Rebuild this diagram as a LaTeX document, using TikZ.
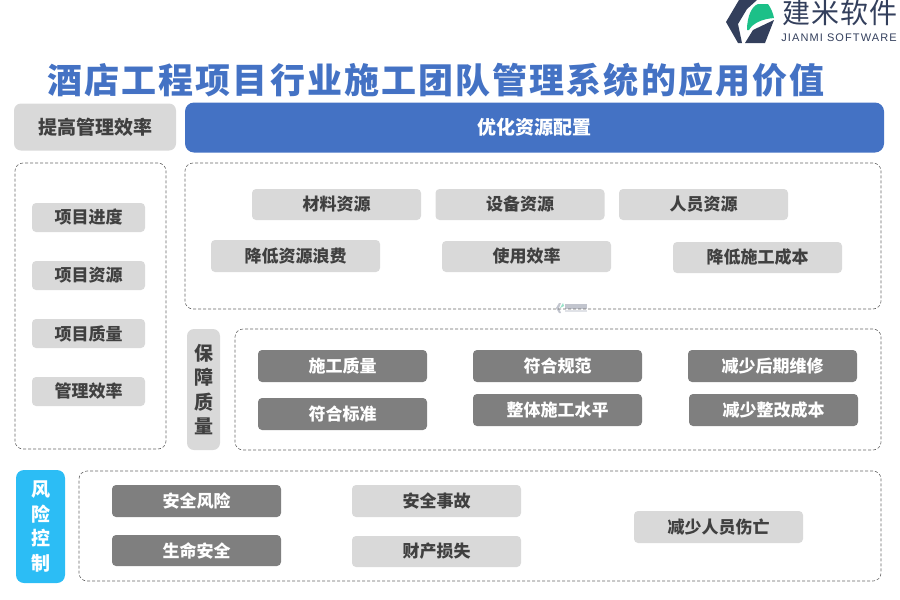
\documentclass[tikz,border=0pt]{standalone}
\usepackage{xcolor}
\usepackage{fontspec}
\usepackage{tikz}
\newfontfamily\cjk{Noto Sans CJK SC}
\newfontfamily\cjktitle[LetterSpace=6]{Noto Sans CJK SC}
\newfontfamily\cjklogo[LetterSpace=4]{Noto Sans CJK SC}
\newfontfamily\logolatin[LetterSpace=10]{Liberation Sans}
\definecolor{chipgray}{HTML}{D9D9D9}
\definecolor{darkgray}{HTML}{7F7F7F}
\definecolor{textgray}{HTML}{404040}
\definecolor{barblue}{HTML}{4472C4}
\definecolor{riskblue}{HTML}{2CBDF5}
\definecolor{logonavy}{HTML}{333F5C}
\definecolor{logogreen}{HTML}{1CC088}
\tikzset{
  chip/.style={fill=chipgray,rounded corners=4pt,minimum width=169pt,minimum height=31pt,inner sep=0pt,
    text=textgray,font=\cjk\bfseries\fontsize{17}{19}\selectfont},
  darkchip/.style={chip,fill=darkgray,text=white},
  sidechip/.style={chip,minimum width=113pt,minimum height=29pt},
  dashbox/.style={draw=black!60,densely dashed,line width=0.6pt,rounded corners=8pt,inner sep=0pt},
  tallbox/.style={rounded corners=7pt,inner sep=0pt,align=center,font=\cjk\bfseries\fontsize{19}{24.5}\selectfont}
}
\begin{document}
\begin{tikzpicture}[x=1pt,y=-1pt]
  \useasboundingbox (0,0) rectangle (900,600);
  % logo
  \fill[logonavy] (726,22) -- (739,0) -- (757,0) -- (747,9) -- (738,24) -- (742,43) -- (738,43) -- cycle;
  \fill[logonavy] (745,43) -- (753,30) -- (774,20) -- (765,43) -- cycle;
  \fill[logogreen] (747,30) .. controls (747,16) and (752,6) .. (758,4) -- (768,4) .. controls (771,8) and (773,13) .. (774,18) .. controls (762,19) and (753,23) .. (749,30) -- cycle;
  \node[text=logonavy,font=\cjklogo\fontsize{28}{30}\selectfont] (logotext) at (840,13) {建米软件};
  \node[text=logonavy,font=\logolatin\fontsize{11}{12}\selectfont] (logosub) at (839,38) {JIANMI SOFTWARE};
  % watermark
  \fill[logonavy!30] (556,308) -- (559,303) -- (561,303) -- (559,308) -- (561,313) -- (559,313) -- cycle;
  \fill[logogreen!45] (560,308) -- (563,303) -- (564,306) -- cycle;
  \fill[logonavy!30] (565,304) rectangle (587,309);
  \fill[logonavy!15] (565,310) rectangle (587,312);
  % title
  \node[text=barblue,font=\cjktitle\bfseries\fontsize{35}{38}\selectfont] (title) at (436,80) {酒店工程项目行业施工团队管理系统的应用价值};
  % dashed frames
  \node[dashbox,minimum width=151pt,minimum height=286pt] (leftframe) at (90.5,306) {};
  \node[dashbox,minimum width=696pt,minimum height=146pt] (topframe) at (533,236) {};
  \node[dashbox,minimum width=646pt,minimum height=121pt] (midframe) at (558,389.5) {};
  \node[dashbox,minimum width=802pt,minimum height=110pt] (riskframe) at (480,526) {};
  % headers
  \node[chip,minimum width=162pt,minimum height=47pt,rounded corners=7pt,font=\cjk\bfseries\fontsize{19}{21}\selectfont] (mgmt) at (95,127) {提高管理效率};
  \node[chip,fill=barblue,text=white,minimum width=699pt,minimum height=50pt,rounded corners=9pt,font=\cjk\bfseries\fontsize{19}{21}\selectfont] (optimize) at (534.5,127.5) {优化资源配置};
  \node[tallbox,fill=chipgray,text=textgray,minimum width=33pt,minimum height=121pt] (quality) at (203.5,389.5) {保\\障\\质\\量};
  \node[tallbox,fill=riskblue,text=white,minimum width=49pt,minimum height=113pt,rounded corners=8pt] (risk) at (40.5,526.5) {风\\险\\控\\制};
  % left column
  \node[sidechip] (l1) at (88.5,217.5) {项目进度};
  \node[sidechip] (l2) at (88.5,275.5) {项目资源};
  \node[sidechip] (l3) at (88.5,333.5) {项目质量};
  \node[sidechip] (l4) at (88.5,391.5) {管理效率};
  % resources
  \node[chip] (a1) at (336.5,204.5) {材料资源};
  \node[chip] (a2) at (520,204.5) {设备资源};
  \node[chip] (a3) at (703.5,204.5) {人员资源};
  \node[chip,minimum height=32pt] (a4) at (295.5,256) {降低资源浪费};
  \node[chip] (a5) at (526.5,256.5) {使用效率};
  \node[chip] (a6) at (757.5,257.5) {降低施工成本};
  % quality
  \node[darkchip,minimum height=32pt] (b1) at (342.5,366) {施工质量};
  \node[darkchip,minimum height=32pt] (b2) at (557.5,366) {符合规范};
  \node[darkchip,minimum height=32pt] (b3) at (772.5,366) {减少后期维修};
  \node[darkchip,minimum height=32pt] (b4) at (342.5,414) {符合标准};
  \node[darkchip,minimum height=32pt] (b5) at (557.5,410) {整体施工水平};
  \node[darkchip,minimum height=32pt] (b6) at (773.5,410) {减少整改成本};
  % risk
  \node[darkchip,minimum height=32pt] (c1) at (196.5,501) {安全风险};
  \node[darkchip] (c2) at (196.5,550.5) {生命安全};
  \node[chip,minimum height=32pt] (c3) at (436.5,501) {安全事故};
  \node[chip] (c4) at (436.5,551.5) {财产损失};
  \node[chip,minimum height=32pt] (c5) at (718.5,527) {减少人员伤亡};
\end{tikzpicture}
\end{document}
